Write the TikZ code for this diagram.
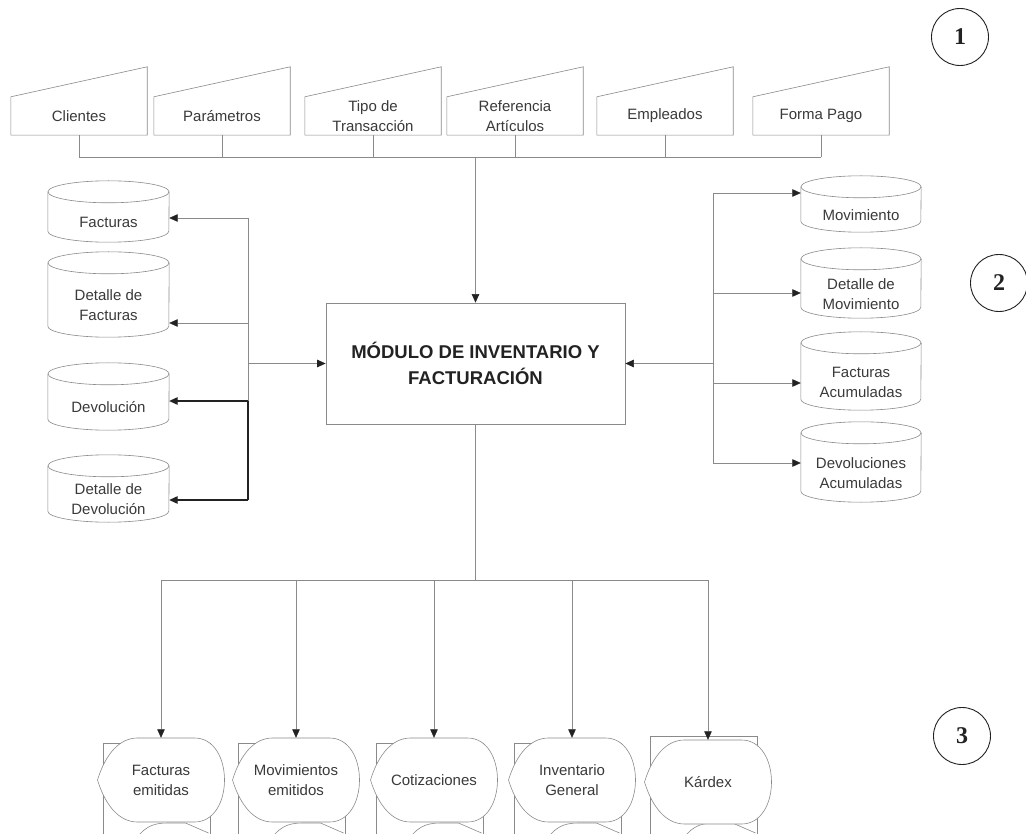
\documentclass[tikz,border=0pt]{standalone}
\usepackage{fontspec}
\setmainfont{Liberation Sans}
\newfontfamily\numserif{Liberation Serif}
\usetikzlibrary{arrows.meta,calc}
\definecolor{ln}{HTML}{8A8A8A}
\definecolor{tx}{HTML}{3A3A3A}
\definecolor{dk}{HTML}{222222}
\newcommand\labfont{\fontsize{15}{20}\selectfont}
\tikzset{
  shp/.style={draw=ln, line width=0.6pt},
  conn/.style={draw=ln, line width=0.6pt},
  arr/.style={conn, -{Triangle[width=7.5pt,length=8.5pt,color=dk]}},
  arrdk/.style={draw=dk, line width=1.1pt, -{Triangle[width=7.5pt,length=8.5pt,color=dk]}},
  inbox/.style={minimum width=136pt, minimum height=38pt, inner sep=0pt, align=center, font=\labfont, text=tx},
  cylbody/.style={inner sep=0pt, align=center, font=\labfont, text=tx},
  disptext/.style={minimum width=127pt, minimum height=84pt, inner sep=0pt, align=center, font=\labfont, text=tx},
  mainbox/.style={draw=ln, line width=0.7pt, minimum width=299pt, minimum height=121pt, inner sep=0pt, align=center,
     font=\fontsize{18.5}{26}\selectfont\bfseries, text=dk},
  numc/.style={circle, draw=dk, line width=0.9pt, minimum size=57pt, inner sep=0pt,
     font=\numserif\bfseries\fontsize{24}{24}\selectfont, text=dk}
}
% manual input: name, cx, text
\newcommand\minput[3]{%
  \node[inbox] (#1) at (#2,116) {#3};
  \draw[shp] (#1.north west) -- (#1.south west) -- (#1.south east) -- ([yshift=30pt]#1.north east) -- cycle;
}
% cylinder: name, cx, top, bottom, width, text
\newcommand\cyl[6]{%
  \pgfmathsetmacro\cyh{#4-#3-22}%
  \pgfmathsetmacro\cyc{(#4+#3+22)/2}%
  \pgfmathsetmacro\cyr{#5/2}%
  \node[cylbody, minimum width=#5pt, minimum height=\cyh pt] (#1) at (#2,\cyc) {#6};
  \draw[shp] ([yshift=11pt]#1.north west) -- ([yshift=11pt]#1.south west)
     arc[start angle=180,end angle=360,x radius=\cyr pt,y radius=11pt] -- ([yshift=11pt]#1.north east);
  \draw[shp] ([yshift=11pt]#1.north) ellipse[x radius=\cyr pt, y radius=11pt];
}
% display output: name, cx, cy, text, rect top offset
\newcommand\dispnode[5]{%
  \pgfmathsetmacro\dL{#2-63.5}\pgfmathsetmacro\dR{#2+63.5}%
  \pgfmathsetmacro\dT{#3-42}\pgfmathsetmacro\dB{#3+42}%
  \pgfmathsetmacro\rL{\dL+6}\pgfmathsetmacro\rR{\dR-14}\pgfmathsetmacro\rT{\dT+#5}%
  \draw[shp] (\rL,850) -- (\rL,\rT) -- (\rR,\rT) -- (\rR,850);
  \draw[shp] ({\dL+35},845) .. controls ({\dL+45},827) and ({\dL+55},823) .. ({\dL+70},823) -- ({\dL+88},823) -- ({\rR-2},833);
  \draw[shp, fill=white] (\dL,#3) .. controls ({\dL+8},{\dT+16}) and ({\dL+22},\dT) .. ({\dL+40},\dT)
     -- ({\dR-30},\dT) .. controls ({\dR+10},\dT) and ({\dR+10},\dB) .. ({\dR-30},\dB)
     -- ({\dL+40},\dB) .. controls ({\dL+22},\dB) and ({\dL+8},{\dB-16}) .. (\dL,#3) -- cycle;
  \node[disptext] (#1) at (#2,#3) {#4};
}
\begin{document}
\begin{tikzpicture}[x=1pt,y=-1pt]
\useasboundingbox[fill=white] (0,0) rectangle (1026,834);
\clip (0,0) rectangle (1026,834);

% top inputs
\minput{cli}{79}{Clientes}
\minput{par}{222}{Parámetros}
\minput{tip}{373}{Tipo de\\Transacción}
\minput{ref}{515}{Referencia\\Artículos}
\minput{emp}{665}{Empleados}
\minput{fpa}{821}{Forma Pago}

% main box
\node[mainbox] (box) at (475.5,363.5) {MÓDULO DE INVENTARIO Y\\FACTURACIÓN};

% left cylinders
\cyl{fac}{108.5}{181}{242}{121}{Facturas}
\cyl{dfa}{108.5}{252}{337}{121}{Detalle de\\Facturas}
\cyl{dev}{108.5}{363}{430}{121}{Devolución}
\cyl{ddv}{108.5}{455}{522}{121}{Detalle de\\Devolución}

% right cylinders
\cyl{mov}{861}{176}{232}{120}{Movimiento}
\cyl{dmo}{861}{248}{318}{120}{Detalle de\\Movimiento}
\cyl{fac2}{861}{332}{410}{120}{Facturas\\Acumuladas}
\cyl{dva}{861}{422}{502}{120}{Devoluciones\\Acumuladas}

% bottom outputs
\dispnode{fem}{161}{780}{Facturas\\emitidas}{5}
\dispnode{mem}{296}{780}{Movimientos\\emitidos}{5}
\dispnode{cot}{434}{780}{Cotizaciones}{5}
\dispnode{ing}{572}{780}{Inventario\\General}{5}
\dispnode{kar}{708}{782}{Kárdex}{-4}

% circled numbers
\node[numc] (n1) at (960,37) {1};
\node[numc] (n2) at (999,283) {2};
\node[numc] (n3) at (962,736) {3};

% top connectors
\coordinate (t0) at (475.5,157);
\foreach \n in {cli,par,tip,ref,emp,fpa}{\draw[conn] (\n.south) -- (\n.south |- t0);}
\draw[conn] (cli.south |- t0) -- (fpa.south |- t0);
\draw[arr] (t0) -- (box.north);

% left connectors
\coordinate (l1) at (248,218);
\coordinate (l2) at (248,323);
\coordinate (l3) at (248,401);
\coordinate (l4) at (248,500);
\coordinate (lm) at (248,363.5);
\draw[conn] (l1) -- (l3);
\draw[draw=dk, line width=1.1pt] (l3) -- (l4);
\draw[arr] (l1) -- (l1 -| fac.east);
\draw[arr] (l2) -- (l2 -| dfa.east);
\draw[arrdk] (l3) -- (l3 -| dev.east);
\draw[arrdk] (l4) -- (l4 -| ddv.east);
\draw[arr] (lm) -- (box.west);

% right connectors
\coordinate (r1) at (713,193);
\coordinate (r2) at (713,293);
\coordinate (r3) at (713,383);
\coordinate (r4) at (713,463);
\coordinate (rm) at (713,363.5);
\draw[conn] (r1) -- (r4);
\draw[arr] (rm) -- (box.east);
\draw[arr] (r1) -- (r1 -| mov.west);
\draw[arr] (r2) -- (r2 -| dmo.west);
\draw[arr] (r3) -- (r3 -| fac2.west);
\draw[arr] (r4) -- (r4 -| dva.west);

% bottom connectors
\coordinate (b0) at (475.5,580);
\draw[conn] (box.south) -- (b0);
\draw[conn] (fem.north |- b0) -- (kar.north |- b0);
\foreach \n in {fem,mem,cot,ing,kar}{\draw[arr] (\n.north |- b0) -- (\n.north);}
\end{tikzpicture}
\end{document}
